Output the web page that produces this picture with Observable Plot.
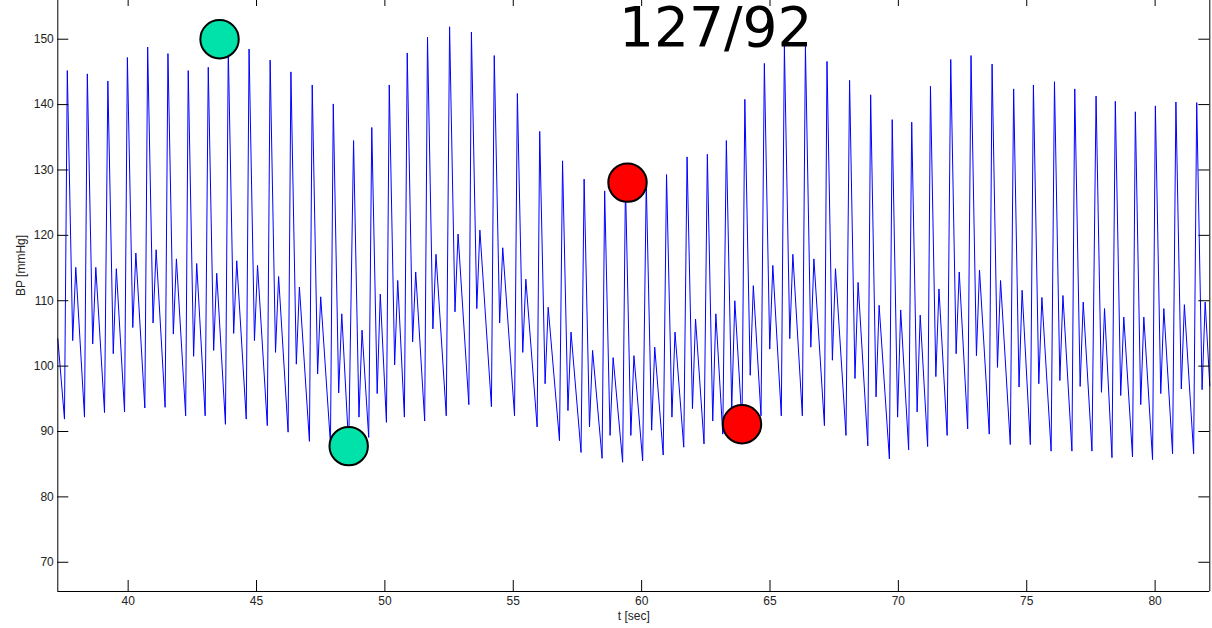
<!DOCTYPE html>
<html><head><meta charset="utf-8">
<script src="https://cdn.jsdelivr.net/npm/d3@7"></script>
<script src="https://cdn.jsdelivr.net/npm/@observablehq/plot@0.6"></script>
<style>html,body{margin:0;padding:0;background:#fff;overflow:hidden}#chart svg{display:block}</style>
</head><body><div id="chart"></div>
<script>
// ---- data ----
const titleText = "127/92";
const xLabel = "t [sec]";
const yLabel = "BP [mmHg]";
const xTicks = [40, 45, 50, 55, 60, 65, 70, 75, 80];
const yTicks = [70, 80, 90, 100, 110, 120, 130, 140, 150];
const xDomain = [37.26, 82.13];
const yDomain = [65.53, 155.92];

// trace start / end at the plot edges
const traceStart = {t: 37.26, bp: 104.2};
const traceEnd = {t: 82.13, bp: 97.0};

// per-beat values (diastolic trough before upstroke, systolic peak, dicrotic notch, dicrotic wave)
const troughTime = [37.52, 38.30, 39.08, 39.86, 40.65, 41.44, 42.24, 43.00, 43.79, 44.60, 45.42, 46.23, 47.06, 47.88, 48.59, 49.37, 50.06, 50.76, 51.55, 52.39, 53.27, 54.15, 55.05, 55.93, 56.80, 57.64, 58.46, 59.26, 60.04, 60.84, 61.64, 62.43, 63.16, 63.91, 64.65, 65.44, 66.26, 67.12, 67.96, 68.81, 69.65, 70.40, 71.14, 71.90, 72.70, 73.54, 74.36, 75.14, 75.95, 76.76, 77.54, 78.32, 79.12, 79.90, 80.68, 81.50];
const troughValue = [91.9, 92.2, 92.9, 93.0, 93.6, 93.7, 92.4, 92.4, 91.1, 91.9, 90.9, 89.9, 88.5, 88.1, 87.7, 89.1, 91.4, 92.2, 91.6, 92.4, 94.1, 93.8, 92.4, 90.7, 88.6, 86.8, 85.9, 85.3, 85.5, 86.4, 87.6, 88.1, 89.6, 91.2, 92.4, 92.4, 92.4, 90.9, 89.4, 87.8, 85.8, 87.2, 87.7, 89.4, 90.4, 89.6, 88.0, 88.0, 87.0, 87.0, 87.0, 86.0, 86.1, 85.7, 86.6, 86.6];
const peakTime = [37.63, 38.41, 39.21, 39.97, 40.76, 41.55, 42.34, 43.12, 43.90, 44.71, 45.53, 46.34, 47.17, 47.99, 48.78, 49.49, 50.17, 50.87, 51.66, 52.52, 53.37, 54.26, 55.16, 56.03, 56.92, 57.76, 58.56, 59.37, 60.18, 60.97, 61.77, 62.56, 63.30, 64.02, 64.78, 65.56, 66.38, 67.22, 68.10, 68.92, 69.76, 70.52, 71.25, 72.04, 72.83, 73.65, 74.49, 75.26, 76.08, 76.87, 77.70, 78.45, 79.23, 80.01, 80.81, 81.62];
const peakValue = [145.2, 144.7, 143.6, 147.2, 148.8, 147.8, 145.2, 145.7, 148.5, 148.5, 146.8, 145.0, 143.0, 140.1, 134.5, 136.5, 143.0, 147.9, 150.3, 151.9, 151.1, 147.5, 141.7, 135.9, 131.4, 128.6, 126.8, 128.0, 128.1, 129.3, 132.0, 132.4, 134.5, 140.8, 146.3, 149.0, 148.9, 146.6, 143.7, 141.5, 137.7, 137.3, 142.8, 146.9, 147.5, 146.2, 142.4, 143.0, 143.5, 142.4, 141.3, 140.5, 138.9, 139.8, 140.4, 140.3];
const notchValue = [103.9, 103.4, 101.9, 105.9, 106.6, 104.9, 101.5, 102.4, 105.0, 103.9, 102.1, 100.3, 98.8, 95.9, 92.2, 95.8, 100.2, 103.7, 105.7, 108.3, 108.8, 106.6, 102.1, 97.3, 93.2, 90.7, 89.4, 89.4, 90.2, 92.2, 93.5, 91.6, 93.5, 98.6, 102.6, 104.2, 102.9, 100.9, 98.1, 95.3, 92.2, 93.0, 98.4, 101.9, 101.6, 99.8, 96.8, 97.3, 97.8, 96.9, 96.0, 95.5, 94.1, 95.8, 96.5, 96.4];
const bumpValue = [115.1, 115.1, 114.9, 117.3, 117.8, 116.4, 115.7, 114.2, 116.1, 115.4, 113.7, 112.1, 110.6, 108.0, 105.5, 111.0, 113.1, 114.4, 117.1, 120.2, 120.8, 118.1, 113.3, 109.0, 105.2, 102.4, 101.3, 101.6, 102.9, 105.2, 107.2, 108.0, 110.0, 112.3, 115.4, 117.1, 116.4, 114.9, 112.8, 109.3, 108.6, 107.8, 111.8, 114.4, 114.7, 113.1, 111.6, 110.5, 110.8, 109.8, 108.8, 107.5, 107.5, 108.8, 109.4, 109.8];
const notchDelay = 0.21; // s after systolic peak
const bumpDelay = 0.33;  // s after systolic peak

// highlighted points
const markerTime = [43.56, 48.59, 59.45, 63.91];
const markerValue = [150.0, 87.76, 128.07, 91.12];
const markerColor = ["#00e2a9", "#00e2a9", "#ff0000", "#ff0000"];

// ---- build tables ----
const trace = [traceStart];
const n = Math.min(troughTime.length, peakTime.length, peakValue.length, troughValue.length, notchValue.length, bumpValue.length);
for (let i = 0; i < n; i++) {
  trace.push({t: troughTime[i], bp: troughValue[i]});
  trace.push({t: peakTime[i], bp: peakValue[i]});
  trace.push({t: peakTime[i] + notchDelay, bp: notchValue[i]});
  trace.push({t: peakTime[i] + bumpDelay, bp: bumpValue[i]});
}
trace.push(traceEnd);
const markers = markerTime.map((t, i) => ({t, bp: markerValue[i], color: markerColor[i]}));

const W = 1212, H = 628, mL = 57.3, mR = 2.7, mT = 0, mB = 37;
const frameW = W - mL - mR, frameH = H - mT - mB;

const chart = Plot.plot({
  width: W, height: H,
  marginLeft: mL, marginRight: mR, marginTop: mT, marginBottom: mB,
  style: {fontFamily: "'Liberation Sans', Arial, sans-serif", fontSize: "12px", background: "#fff", color: "#222"},
  x: {domain: xDomain},
  y: {domain: yDomain},
  marks: [
    Plot.line(trace, {x: "t", y: "bp", stroke: "#0000ff", strokeWidth: 1}),
    Plot.ruleX(xDomain, {stroke: "#000", strokeWidth: 1}),
    Plot.ruleY([yDomain[0]], {stroke: "#000", strokeWidth: 1}),
    Plot.tickX(xTicks, {x: d => d, insetTop: frameH - 11, stroke: "#000"}),
    Plot.tickX(xTicks, {x: d => d, insetBottom: frameH - 6, stroke: "#000"}),
    Plot.tickY(yTicks, {y: d => d, insetRight: frameW - 11, stroke: "#000"}),
    Plot.tickY(yTicks, {y: d => d, insetLeft: frameW - 11, stroke: "#000"}),
    Plot.axisX(xTicks, {tickSize: 0, tickPadding: 5, label: null}),
    Plot.axisY(yTicks, {tickSize: 0, tickPadding: 4, label: null}),
    Plot.text([yLabel], {frameAnchor: "left", dx: -37, rotate: -90, fontSize: 12}),
    Plot.text([xLabel], {frameAnchor: "bottom", dy: 28, fontSize: 12}),
    Plot.dot(markers, {x: "t", y: "bp", r: 19.2, fill: "color", stroke: "#000", strokeWidth: 2}),
    Plot.text([titleText], {frameAnchor: "top", dx: 82, dy: 6, lineAnchor: "top", fontSize: 55, fontFamily: "'DejaVu Sans', sans-serif", fill: "#000"})
  ]
});
document.getElementById("chart").appendChild(chart);
</script>
</body></html>
